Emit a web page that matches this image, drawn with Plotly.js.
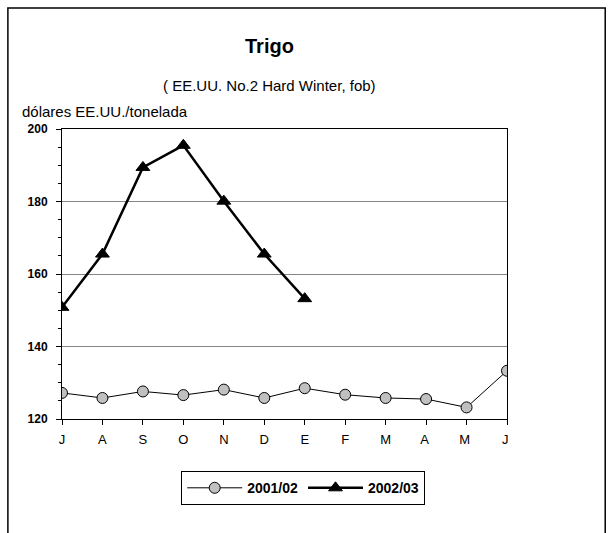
<!DOCTYPE html>
<html><head><meta charset="utf-8">
<script src="https://cdn.plot.ly/plotly-3.0.1.min.js"></script>
<style>body{margin:0;padding:0;background:#fff}#c{width:613px;height:533px}</style>
</head><body><div id="c"></div>
<script>
const months = ["J","A","S","O","N","D","E","F","M","A ","M ","J "];
const s2001 = [127.2,125.8,127.6,126.6,128.1,125.8,128.5,126.7,125.8,125.5,123.2,133.3];
const s2002 = [150.8,165.5,189.4,195.5,180.1,165.5,153.2];
const yTicks = [120,140,160,180,200];

const font = "Liberation Sans, Arial, sans-serif";
const traces = [
  {x: months, y: s2001, name: "2001/02", mode: "lines+markers", type: "scatter",
   line: {color: "#000", width: 1},
   marker: {symbol: "circle", size: 11, color: "#c0c0c0", line: {color: "#000", width: 1}}},
  {x: months.slice(0, s2002.length), y: s2002, name: "2002/03", mode: "lines+markers", type: "scatter",
   line: {color: "#000", width: 2.5},
   marker: {symbol: "triangle-up", size: 12, color: "#000", line: {color: "#000", width: 1}}}
];
const layout = {
  width: 613, height: 533,
  margin: {l: 62, r: 106, t: 129, b: 114},
  paper_bgcolor: "#fff", plot_bgcolor: "#fff",
  showlegend: true,
  legend: {orientation: "h", x: 0.542, y: -0.18, xanchor: "center", yanchor: "top",
    bordercolor: "#000", borderwidth: 1, font: {family: font, size: 14, color: "#000", weight: "bold"},
    itemwidth: 55, tracegroupgap: 0},
  xaxis: {type: "category", categoryorder: "array", categoryarray: months,
    range: [0, 11], showgrid: false, showline: true, linecolor: "#000", linewidth: 1,
    mirror: true, ticks: "outside", ticklen: 5, tickcolor: "#000", ticklabelstandoff: 3,
    tickfont: {family: font, size: 13, color: "#000"}, zeroline: false, fixedrange: true},
  yaxis: {range: [120, 200], tickvals: yTicks, ticktext: yTicks.map(String),
    showgrid: true, gridcolor: "#333", gridwidth: 0.6, showline: true, linecolor: "#000",
    mirror: true, ticks: "outside", ticklen: 5, tickcolor: "#000", ticklabelstandoff: 6,
    minor: {dtick: 5, ticks: "outside", ticklen: 3, tickcolor: "#000", showgrid: false},
    tickfont: {family: font, size: 12, color: "#000", weight: "bold"}, zeroline: false, fixedrange: true},
  annotations: [
    {text: "Trigo", xref: "paper", yref: "paper", x: 0.467, y: 1, yshift: 96, showarrow: false,
     font: {family: font, size: 20, color: "#000", weight: "bold"}},
    {text: "( EE.UU. No.2 Hard Winter, fob)", xref: "paper", yref: "paper", x: 0.467, y: 1, yshift: 54,
     showarrow: false, font: {family: font, size: 15, color: "#000"}},
    {text: "dólares EE.UU./tonelada", xref: "paper", yref: "paper", x: 0, xshift: -42, xanchor: "left",
     y: 1, yshift: 28, showarrow: false, font: {family: font, size: 15, color: "#000"}}
  ],
  shapes: [
    {type: "rect", xref: "paper", yref: "paper", x0: -0.1216, x1: 1.2207, y0: -0.5, y1: 1.4172,
     line: {color: "#000", width: 1.5}, fillcolor: "rgba(0,0,0,0)"}
  ]
};
Plotly.newPlot("c", traces, layout, {displayModeBar: false, staticPlot: true});
</script></body></html>
